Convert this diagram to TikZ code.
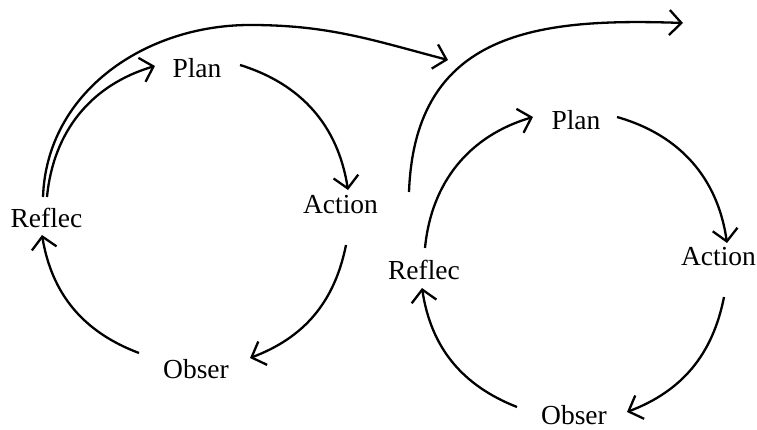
\documentclass[tikz,border=0pt]{standalone}
\usepackage{fontspec}
\setmainfont{Liberation Serif}
\usetikzlibrary{arrows.meta}
\begin{document}
\begin{tikzpicture}[x=1pt,y=1pt,
  lbl/.style={inner sep=0pt, anchor=base, font=\fontsize{27.5}{30}\selectfont},
  conn/.style={line width=2.3pt, -{Straight Barb[length=12pt,width=25pt]}}]
\useasboundingbox (0,0) rectangle (757,430);
% left cycle
\node[lbl] (planL) at (197,352) {Plan};
\node[lbl] (actL) at (340.5,216) {Action};
\node[lbl] (refL) at (46.5,202) {Reflec};
\node[lbl] (obsL) at (196,51) {Obser};
% right cycle
\node[lbl] (planR) at (576,300) {Plan};
\node[lbl] (actR) at (718.5,164) {Action};
\node[lbl] (refR) at (424,150) {Reflec};
\node[lbl] (obsR) at (574,5) {Obser};
\coordinate (topL) at (250,405);
\coordinate (endL) at (448,370);
\coordinate (endR) at (683,407);
% left arcs
\draw[conn] ([shift={(0.5,31)}]refL.base) to[bend left=34] ([shift={(-42,12)}]planL.base);
\draw[conn] ([shift={(43,13)}]planL.base) to[bend left=32] ([shift={(7.5,24)}]actL.base);
\draw[conn] ([shift={(5.5,-31)}]actL.base) to[bend left=29] ([shift={(54,21)}]obsL.base);
\draw[conn] ([shift={(-57,26)}]obsL.base) to[bend left=30] ([shift={(-4.5,-7)}]refL.base);
% right arcs
\draw[conn] ([shift={(1,32)}]refR.base) to[bend left=34] ([shift={(-43,13)}]planR.base);
\draw[conn] ([shift={(41,13)}]planR.base) to[bend left=33] ([shift={(8.5,23)}]actR.base);
\draw[conn] ([shift={(5.5,-31)}]actR.base) to[bend left=29] ([shift={(53,13)}]obsR.base);
\draw[conn] ([shift={(-57,18)}]obsR.base) to[bend left=30] ([shift={(-2,-8)}]refR.base);
% big arrows
\draw[conn] ([shift={(-3.5,31)}]refL.base) .. controls +(3.7,105) and +(-105,0) .. (topL)
  .. controls +(79,0) and +(-76,20) .. (endL);
\draw[conn] ([shift={(-15,88)}]refR.base) .. controls +(6,162) and +(-143,5) .. (endR);
\end{tikzpicture}
\end{document}
